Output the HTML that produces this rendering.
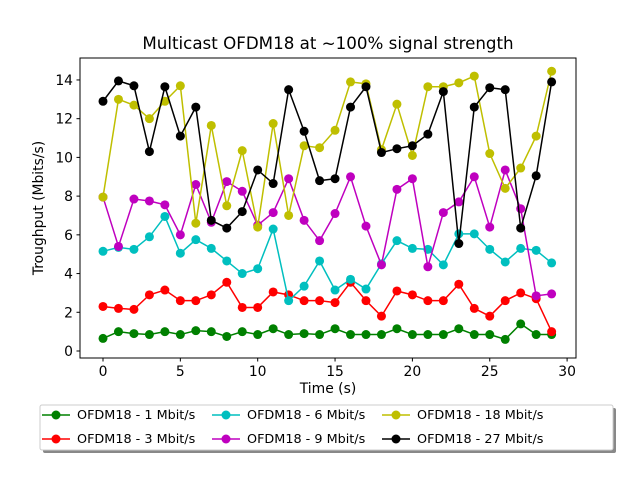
<!DOCTYPE html>
<html><head><meta charset="utf-8"><style>
body{margin:0;background:#fff;position:relative;width:640px;height:480px;overflow:hidden}
text{font-family:"DejaVu Sans","Liberation Sans",sans-serif;fill:#000}
.lt{position:absolute;font-family:"DejaVu Sans","Liberation Sans",sans-serif;font-size:12.8px;line-height:16px;color:#000;white-space:nowrap}
</style></head><body>
<svg id="chart" width="640" height="480" xmlns="http://www.w3.org/2000/svg" style="position:absolute;left:0;top:0">
<rect width="640" height="480" fill="#fff"/>
<text x="328" y="49" font-size="16.7" text-anchor="middle">Multicast OFDM18 at ~100% signal strength</text>
<g id="plot"></g>
<rect x="80" y="58" width="496" height="300" fill="none" stroke="#000" stroke-width="1"/>
<text x="328" y="393" font-size="13.9" text-anchor="middle">Time (s)</text>
<text transform="translate(43,208) rotate(-90)" font-size="13.9" text-anchor="middle">Troughput (Mbits/s)</text>
<rect x="43" y="408" width="573" height="45" fill="#888" rx="2"/>
<rect x="40" y="405" width="573" height="45" fill="#fff" stroke="#ccc" rx="2"/>
<g id="legend"></g>
</svg>
<div id="legtext"></div>
<script>
const times = [0,1,2,3,4,5,6,7,8,9,10,11,12,13,14,15,16,17,18,19,20,21,22,23,24,25,26,27,28,29];
const s1 = [0.65,1.0,0.9,0.85,1.0,0.85,1.05,1.0,0.75,1.0,0.85,1.15,0.85,0.9,0.85,1.15,0.85,0.85,0.85,1.15,0.85,0.85,0.85,1.15,0.85,0.85,0.6,1.4,0.85,0.85];
const s3 = [2.3,2.2,2.15,2.9,3.15,2.6,2.6,2.9,3.55,2.25,2.25,3.05,2.9,2.6,2.6,2.5,3.55,2.6,1.8,3.1,2.9,2.6,2.6,3.45,2.2,1.8,2.6,3.0,2.7,1.0];
const s6 = [5.15,5.35,5.25,5.9,6.95,5.05,5.75,5.3,4.65,4.0,4.25,6.3,2.6,3.35,4.65,3.15,3.7,3.2,4.5,5.7,5.3,5.25,4.45,6.05,6.05,5.25,4.6,5.3,5.2,4.55];
const s9 = [7.95,5.4,7.85,7.75,7.55,6.0,8.6,6.65,8.75,8.25,6.5,7.15,8.9,6.75,5.7,7.1,9.0,6.45,4.45,8.35,8.9,4.35,7.15,7.7,9.0,6.4,9.35,7.35,2.85,2.95];
const s18 = [7.95,13.0,12.7,12.0,12.9,13.7,6.6,11.65,7.5,10.35,6.4,11.75,7.0,10.6,10.5,11.4,13.9,13.8,10.4,12.75,10.1,13.65,13.65,13.85,14.2,10.2,8.4,9.45,11.1,14.45];
const s27 = [12.9,13.95,13.7,10.3,13.65,11.1,12.6,6.75,6.35,7.2,9.35,8.65,13.5,11.35,8.8,8.9,12.6,13.65,10.25,10.45,10.6,11.2,13.4,5.55,12.6,13.6,13.5,6.35,9.05,13.9];
const seriesNames = ["OFDM18 - 1 Mbit/s","OFDM18 - 3 Mbit/s","OFDM18 - 6 Mbit/s","OFDM18 - 9 Mbit/s","OFDM18 - 18 Mbit/s","OFDM18 - 27 Mbit/s"];
const xTicks = [0,5,10,15,20,25,30];
const yTicks = [0,2,4,6,8,10,12,14];

const NS="http://www.w3.org/2000/svg";
const colors=["#008000","#ff0000","#00bfbf","#bf00bf","#bfbf00","#000000"];
const allSeries=[s1,s3,s6,s9,s18,s27];
const xs=v=>103+v*15.47;
const ys=v=>351-v*19.36;
function mk(t,a){const e=document.createElementNS(NS,t);for(const k in a)e.setAttribute(k,a[k]);return e;}
const plot=document.getElementById('plot');
xTicks.forEach(t=>{
  const l=mk('line',{x1:xs(t),x2:xs(t),y1:358,y2:361.5,stroke:'#000'});
  
  
  plot.appendChild(l);
  const tx=mk('text',{x:xs(t),y:376,'font-size':13.9,'text-anchor':'middle'});
  
  
  tx.textContent=t;plot.appendChild(tx);
});
yTicks.forEach(t=>{
  const l=mk('line',{x1:76.5,x2:80,y1:ys(t),y2:ys(t),stroke:'#000'});
  
  
  plot.appendChild(l);
  const tx=mk('text',{x:73,y:ys(t)+5,'font-size':13.9,'text-anchor':'end'});
  
  
  tx.textContent=t;plot.appendChild(tx);
});
allSeries.forEach((s,i)=>{
  const g=mk('g',{});
  
  
  const pts=s.map((v,j)=>xs(times[j])+','+ys(v)).join(' ');
  g.appendChild(mk('polyline',{points:pts,fill:'none',stroke:colors[i],'stroke-width':1.5}));
  s.forEach((v,j)=>{
    const c=mk('circle',{cx:xs(times[j]),cy:ys(v),r:4.5,fill:colors[i]});
    
    
    g.appendChild(c);
  });
  plot.appendChild(g);
});
const leg=document.getElementById('legend');
const legText=document.getElementById('legtext');
seriesNames.forEach((name,i)=>{
  const col=Math.floor(i/2),row=i%2;
  const x0=42+col*170,y0=415+row*24;
  const g=mk('g',{});
  
  
  g.appendChild(mk('line',{x1:x0,x2:x0+28,y1:y0,y2:y0,stroke:colors[i],'stroke-width':1.5}));
  g.appendChild(mk('circle',{cx:x0+14,cy:y0,r:4.5,fill:colors[i]}));
  leg.appendChild(g);
  const d=document.createElement('div');
  d.className='lt';
  
  
  d.style.left=(x0+35)+'px';
  d.style.top=(y0-7)+'px';
  d.textContent=name;
  legText.appendChild(d);
});
</script>
</body></html>
